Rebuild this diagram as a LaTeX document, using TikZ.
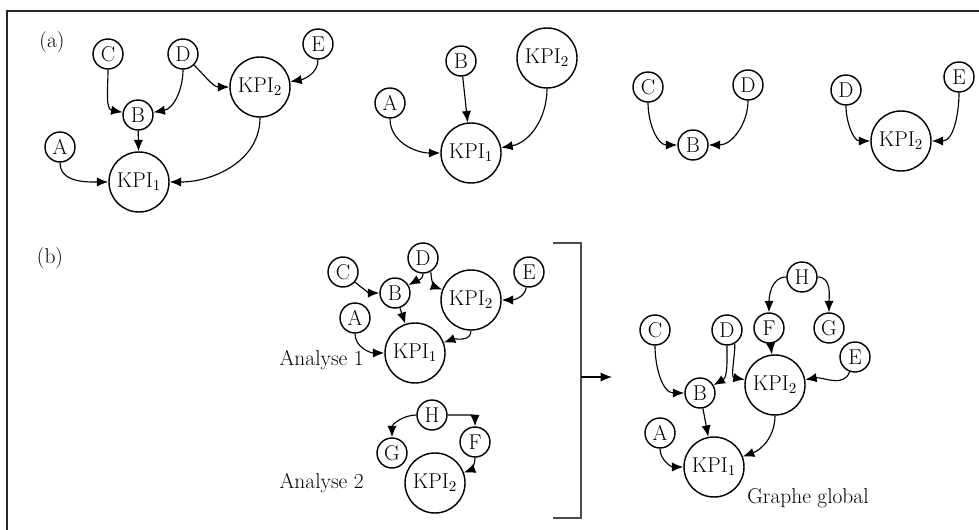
\documentclass[tikz,border=0pt]{standalone}
\usetikzlibrary{arrows.meta}
\tikzset{
  vert/.style={circle,draw,line width=1pt,minimum size=21pt,inner sep=0pt,font=\fontsize{15}{17}\selectfont},
  kpi/.style={vert,minimum size=42pt},
  lbl/.style={inner sep=0pt,font=\fontsize{15}{17}\selectfont},
  link/.style={-{Latex[length=8pt,width=6.5pt]},line width=0.8pt}
}

\begin{document}
\begin{tikzpicture}[x=0.7pt,y=0.7pt]
  \useasboundingbox (0,0) rectangle (979,-530);
  \draw[line width=0.9pt,black!85] (7,-530) -- (7,-11) -- (979,-11);

  % (a) full graph
  \node[lbl] (la) at (52,-42) {(a)};
  \node[vert] (g1C) at (108,-54) {C};
  \node[vert] (g1D) at (183,-54) {D};
  \node[vert] (g1E) at (318,-44) {E};
  \node[kpi] (g1K2) at (260,-87) {KPI\textsubscript{2}};
  \node[vert] (g1B) at (138,-115) {B};
  \node[vert] (g1A) at (60,-147) {A};
  \node[kpi] (g1K1) at (139,-182) {KPI\textsubscript{1}};
  \draw[link] (g1C) to[out=-90,in=170] (g1B);
  \draw[link] (g1D) to[out=-90,in=10] (g1B);
  \draw[link] (g1D) to[out=-45,in=180] (g1K2);
  \draw[link] (g1E) to[out=-90,in=10] (g1K2);
  \draw[link] (g1B) -- (g1K1);
  \draw[link] (g1A) to[out=-90,in=180] (g1K1);
  \draw[link] (g1K2) to[out=-90,in=0] (g1K1);

  % (a) sub-graphs
  \node[vert] (g2B) at (461,-61) {B};
  \node[kpi] (g2K2) at (547,-58) {KPI\textsubscript{2}};
  \node[vert] (g2A) at (390,-103) {A};
  \node[kpi] (g2K1) at (471,-153) {KPI\textsubscript{1}};
  \draw[link] (g2B) -- (g2K1);
  \draw[link] (g2A) to[out=-90,in=180] (g2K1);
  \draw[link] (g2K2) to[out=-90,in=10] (g2K1);

  \node[vert] (g3C) at (648,-87) {C};
  \node[vert] (g3D) at (748,-85) {D};
  \node[vert] (g3B) at (693,-145) {B};
  \draw[link] (g3C) to[out=-90,in=180] (g3B);
  \draw[link] (g3D) to[out=-90,in=0] (g3B);

  \node[vert] (g4D) at (846,-90) {D};
  \node[vert] (g4E) at (959,-77) {E};
  \node[kpi] (g4K2) at (901,-141) {KPI\textsubscript{2}};
  \draw[link] (g4D) to[out=-90,in=180] (g4K2);
  \draw[link] (g4E) to[out=-90,in=0] (g4K2);

  % (b) analyse 1
  \node[lbl] (lb) at (50,-258) {(b)};
  \node[vert] (n1C) at (343,-272) {C};
  \node[vert] (n1D) at (423,-258) {D};
  \node[vert] (n1E) at (529,-272) {E};
  \node[vert] (n1B) at (395,-293) {B};
  \node[kpi] (n1K2) at (471,-300) {KPI\textsubscript{2}};
  \node[vert] (n1A) at (355,-318) {A};
  \node[kpi] (n1K1) at (415,-353) {KPI\textsubscript{1}};
  \node[lbl,anchor=east] (an1) at (364,-360) {Analyse 1};
  \draw[link] (n1C) to[out=-40,in=180] (n1B);
  \draw[link] (n1D) to[out=-90,in=30] (n1B);
  \draw[link] (n1D.-60) to[out=-90,in=160] (n1K2);
  \draw[link] (n1E) to[out=-100,in=0] (n1K2);
  \draw[link] (n1B) -- (n1K1);
  \draw[link] (n1A) to[out=-90,in=180] (n1K1);
  \draw[link] (n1K2) to[out=-90,in=20] (n1K1);

  % (b) analyse 2
  \node[vert] (n2H) at (432,-415) {H};
  \node[vert] (n2G) at (392,-453) {G};
  \node[vert] (n2F) at (475,-442) {F};
  \node[kpi] (n2K2) at (435,-483) {KPI\textsubscript{2}};
  \node[lbl,anchor=east] (an2) at (364,-483) {Analyse 2};
  \draw[link] (n2H) to[out=180,in=90] (n2G);
  \draw[link] (n2H) to[out=0,in=90] (n2F);
  \draw[link] (n2F) to[out=-90,in=20] (n2K2);

  % bracket
  \draw[thick,black!70] (553,-243) -- (581,-243) -- (581,-518) -- (553,-518);
  \coordinate (brk) at (581,-377);
  \coordinate (brkend) at (612,-377);
  \draw[link] (brk) -- (brkend);

  % global graph
  \node[vert] (gH) at (802,-277) {H};
  \node[vert] (gF) at (769,-328) {F};
  \node[vert] (gG) at (829,-328) {G};
  \node[vert] (gC) at (655,-330) {C};
  \node[vert] (gD) at (727,-330) {D};
  \node[vert] (gE) at (855,-357) {E};
  \node[kpi] (gK2) at (775,-385) {KPI\textsubscript{2}};
  \node[vert] (gB) at (700,-393) {B};
  \node[vert] (gA) at (660,-433) {A};
  \node[kpi] (gK1) at (714,-467) {KPI\textsubscript{1}};
  \node[lbl] (glob) at (808,-498) {Graphe global};
  \draw[link] (gH) to[out=180,in=90] (gF);
  \draw[link] (gH) to[out=0,in=90] (gG);
  \draw[link] (gF) -- (gK2);
  \draw[link] (gC) to[out=-90,in=180] (gB);
  \draw[link] (gD) to[out=-90,in=30] (gB);
  \draw[link] (gD.-60) to[out=-90,in=170] (gK2);
  \draw[link] (gE) to[out=-110,in=10] (gK2);
  \draw[link] (gB) -- (gK1);
  \draw[link] (gA) to[out=-90,in=180] (gK1);
  \draw[link] (gK2) to[out=-90,in=20] (gK1);
\end{tikzpicture}
\end{document}
